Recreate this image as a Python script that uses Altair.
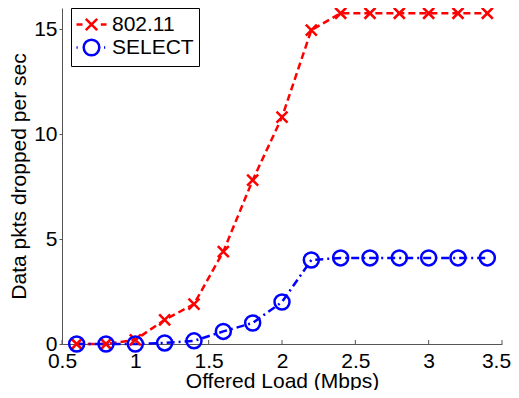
import altair as alt
import pandas as pd

# ---- data ----
load = [0.6, 0.8, 1.0, 1.2, 1.4, 1.6, 1.8, 2.0, 2.2, 2.4, 2.6, 2.8, 3.0, 3.2, 3.4]
drop_80211 = [0, 0, 0.2, 1.15, 1.9, 4.4, 7.8, 10.8, 14.95, 15.75, 15.75, 15.75, 15.75, 15.75, 15.75]
drop_select = [0, 0, 0, 0.05, 0.15, 0.6, 1.0, 2.0, 4.0, 4.1, 4.1, 4.1, 4.1, 4.1, 4.1]
series_names = ["802.11", "SELECT"]
x_ticks = [0.5, 1, 1.5, 2, 2.5, 3, 3.5]
y_ticks = [0, 5, 10, 15]

W, H = 440, 336
FONT = "Liberation Sans"
AXIS_GRAY = "#555555"

df = pd.DataFrame({
    "load": load * 2,
    "drops": drop_80211 + drop_select,
    "series": [series_names[0]] * len(load) + [series_names[1]] * len(load),
})
tick_df = pd.DataFrame({"load": x_ticks})

series_colors = ["#ff0000", "#0000ff"]
color_scale = alt.Scale(domain=series_names, range=series_colors)

x_enc = alt.X("load:Q",
              scale=alt.Scale(domain=[0.5, 3.5], nice=False, zero=False),
              axis=alt.Axis(values=x_ticks, ticks=False, title="Offered Load (Mbps)",
                            labelPadding=6, titlePadding=-1, format="~g",
                            labelFlush=False,
                            labelOffset={"condition": {"test": "datum.value == 3.5", "value": -6},
                                         "value": 0}))
y_enc = alt.Y("drops:Q",
              scale=alt.Scale(domain=[0, 16], nice=False),
              axis=alt.Axis(values=y_ticks, tickSize=3, labelPadding=2,
                            title="Data pkts dropped per sec", titlePadding=4,
                            format="~g", labelFlush=False))

leg_a = "M-1.5,0H-0.9M0.93,0H1.5M-0.57,-0.57L0.57,0.57M-0.57,0.57L0.57,-0.57"
leg_b = ("M-1.5,0H-1.38M1.25,0H1.37"
         "M0.78,0A0.78,0.78,0,1,1,-0.78,0A0.78,0.78,0,1,1,0.78,0Z")

legend = alt.Legend(title=None, orient="none", legendX=9, legendY=0,
                    strokeColor="black", fillColor="white", padding=5,
                    labelFont=FONT, labelFontSize=21, labelColor="black",
                    symbolSize=400, symbolStrokeWidth=2.5, symbolOffset=4,
                    symbolOpacity=1, symbolFillColor="transparent",
                    labelOffset=9, rowPadding=-8, cornerRadius=0)

color_enc = alt.Color("series:N", scale=color_scale, legend=legend)

base = alt.Chart(df)

leg_layer = base.transform_filter("false").mark_point(
    filled=False, opacity=1, strokeWidth=2.5
).encode(
    x=x_enc, y=y_enc,
    color=color_enc,
    shape=alt.Shape("series:N", scale=alt.Scale(domain=series_names, range=[leg_a, leg_b]),
                    legend=legend),
)

line_a = base.transform_filter(alt.datum.series == series_names[0]).mark_line(
    strokeWidth=2.5, opacity=1, strokeDash=[7, 4]
).encode(x=x_enc, y=y_enc, color=color_enc)

line_b = base.transform_filter(alt.datum.series == series_names[1]).mark_line(
    strokeWidth=2.5, opacity=1, strokeDash=[8, 4, 2, 4]
).encode(x=x_enc, y=y_enc, color=color_enc)

x_path = "M-1,-1L1,1M-1,1L1,-1"
pts_a = base.transform_filter(alt.datum.series == series_names[0]).mark_point(
    shape=x_path, size=121, strokeWidth=2.5, filled=False, opacity=1
).encode(x=x_enc, y=y_enc, color=color_enc)

pts_b = base.transform_filter(alt.datum.series == series_names[1]).mark_point(
    shape="circle", size=225, strokeWidth=2.5, filled=False, opacity=1
).encode(x=x_enc, y=y_enc, color=color_enc)

ticks = alt.Chart(tick_df).mark_rule(color=AXIS_GRAY, strokeWidth=1).encode(
    x=x_enc, y=alt.value(H), y2=alt.value(H - 4)
)

chart = alt.layer(leg_layer, line_a, line_b, pts_a, pts_b, ticks).properties(
    width=W, height=H,
    padding={"left": 54, "top": 0, "right": 9, "bottom": 46},
    autosize=alt.AutoSizeParams(type="none"),
).configure_view(stroke=None).configure_axis(
    grid=False, domainColor=AXIS_GRAY, tickColor=AXIS_GRAY, domainWidth=1,
    labelFont=FONT, labelFontSize=21, labelColor="black",
    titleFont=FONT, titleFontSize=21, titleFontWeight="normal", titleColor="black",
)

chart.save("out.html", embed_options={"renderer": "svg", "actions": False})
